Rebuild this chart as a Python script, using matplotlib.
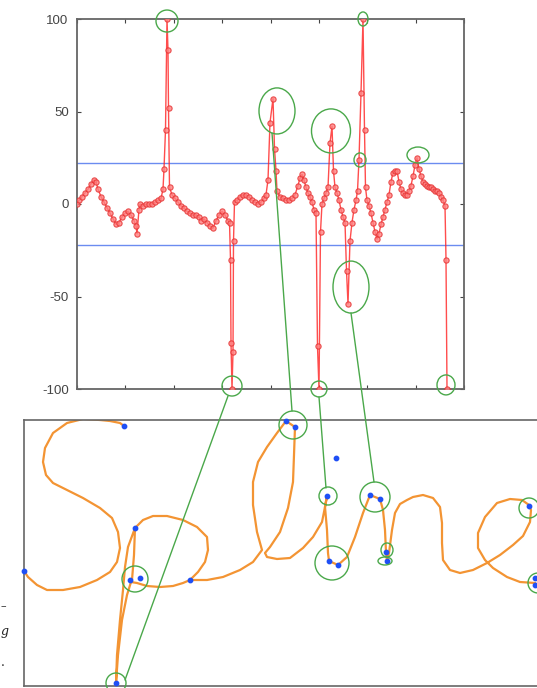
import numpy as np
import matplotlib
matplotlib.use("Agg")
import matplotlib.pyplot as plt
from matplotlib.patches import Ellipse, ConnectionPatch

# --- top chart: curvature signal along the stroke ---
pos = [0, 2, 5, 8, 11, 14, 17, 19, 21, 24, 27, 30, 33, 36, 39, 42, 45, 48, 51, 54, 57, 59, 60,
       62, 63, 66, 69, 72, 75, 78, 81, 84, 86, 87, 88.5, 90, 91, 91.5, 92.5, 95, 98, 101, 104,
       107, 110, 113, 116, 119, 122, 124, 127, 130, 133, 136, 139, 142, 145, 148, 151, 152.5,
       153.5, 154, 155, 156, 156.5, 157.5, 160, 163, 166, 169, 172, 175, 178, 181, 184, 187,
       189, 191, 193, 196, 197.5, 199, 200, 203, 206, 209, 212, 215, 218, 221, 223, 225, 227,
       229, 231, 233, 235, 237, 239, 240.5, 242, 243.5, 245, 247, 249, 251, 253, 255, 256.5,
       258, 260, 262, 264, 266, 268, 269.5, 271, 273, 275, 277, 279, 280.5, 282, 284, 286,
       287.5, 288.5, 290, 292, 294, 296, 298, 300, 302, 304, 306, 308, 310, 312, 314, 316,
       318, 320, 322, 324, 326, 328, 330, 332, 334, 336, 338, 340, 342, 344, 346, 348, 350,
       352, 354, 356, 358, 360, 362, 364, 366, 368, 369, 370]
val = [0, 2, 4, 6, 8, 11, 13, 12, 8, 4, 1, -2, -5, -8, -11, -10, -7, -5, -4, -6, -9, -12, -16,
       -3, 0, -1, 0, 0, 0, 1, 2, 3, 8, 19, 40, 100, 83, 52, 9, 5, 3, 1, -1,
       -2, -4, -5, -6, -6, -7, -9, -8, -10, -12, -13, -9, -6, -4, -6, -9, -10,
       -30, -75, -100, -80, -20, 1, 2, 4, 5, 5, 4, 2, 1, 0, 1, 3,
       5, 13, 44, 57, 30, 18, 7, 4, 3, 2, 2, 3, 5, 10, 14, 16, 13,
       9, 6, 4, 1, -3, -5, -77, -100, -15, 0, 3, 6, 9, 33, 42, 18,
       9, 6, 2, -3, -7, -10, -36, -54, -20, -10, -3, 2, 7, 24, 60, 100,
       40, 9, 2, -1, -5, -10, -15, -19, -16, -11, -7, -3, 1, 5, 12, 17,
       18, 18, 12, 8, 6, 5, 5, 7, 10, 15, 21, 25, 19, 15, 12, 11, 10,
       9, 9, 8, 7, 7, 6, 4, 2, -1, -30, -100]
threshold = 22
y_ticks = [100, 50, 0, -50, -100]

# highlighted peaks on the chart: centre (pos, value), width, height
peak_marks = [(90, 98.9, 22, 11.9), (200, 50.3, 36, 24.9), (254, 39.5, 39, 23.8),
              (286, 100, 10, 7.6), (283, 23.8, 12, 7.6), (341, 26.5, 22, 8.6),
              (274, -44.9, 36, 28.1), (155, -98.4, 20, 10.8), (242, -100, 16, 8.6),
              (369, -97.8, 18, 10.8)]

# --- bottom panel: the handwritten word, pixel-like coordinates ---
s_x = [124, 120, 110, 100, 83, 67, 53, 45, 43, 46, 53, 67, 83, 100, 112, 118, 120, 117, 110,
       97, 80, 63, 47, 37, 28, 24]
s_y = [426, 423, 421, 420, 419, 423, 433, 448, 462, 475, 483, 490, 498, 508, 518, 532, 548,
       562, 572, 580, 587, 590, 590, 585, 577, 571]
p_x = [132, 134, 135, 128, 125, 123, 120, 117, 116, 118, 122, 127, 131, 137, 147, 160, 173,
       183, 190, 198, 205, 208, 207, 197, 183, 167, 153, 143, 135]
p_y = [580, 555, 528, 547, 567, 590, 620, 655, 683, 655, 620, 595, 582, 583, 586, 587, 586,
       583, 580, 572, 562, 550, 537, 527, 520, 516, 516, 520, 528]
line_x = [190, 207, 223, 240, 253, 262, 257, 253, 253, 258, 267, 277, 286, 295, 294, 293, 288,
          280, 270, 265, 267, 277, 290, 303, 313, 322, 325, 327, 325, 327, 328, 329, 338, 347,
          355, 363, 370, 380, 383, 385, 386, 387, 389, 392, 395, 400, 407, 413, 423, 433, 440,
          442, 442, 443, 450, 460, 473, 487, 500, 513, 523, 530, 531, 529, 522, 510, 497, 485,
          478, 478, 485, 493, 507, 520, 535]
line_y = [580, 580, 577, 570, 562, 550, 532, 505, 482, 462, 447, 433, 421, 427, 455, 482, 508,
          532, 547, 553, 557, 559, 558, 548, 537, 522, 507, 496, 507, 530, 553, 561, 565, 557,
          537, 513, 495, 499, 510, 530, 552, 561, 553, 530, 513, 504, 500, 497, 495, 498, 507,
          523, 543, 560, 570, 573, 570, 563, 555, 545, 536, 522, 510, 505, 500, 499, 503, 517,
          533, 548, 560, 568, 577, 582, 583]
knot_x = [124, 24, 135, 130, 140, 116, 190, 286, 295, 336, 327, 329, 338, 370, 380, 386, 387,
          529, 535, 535]
knot_y = [426, 571, 528, 580, 578, 683, 580, 421, 427, 458, 496, 561, 565, 495, 499, 552, 561,
          506, 578, 585]
knot_marks = [(116, 683, 10, 10), (135, 579, 13, 13), (293, 425, 14, 14), (328, 496, 9, 9),
              (332, 563, 17, 17), (375, 497, 15, 15), (387, 550, 6, 7), (385, 561, 7, 4),
              (529, 508, 10, 10), (538, 583, 10, 10)]

# links chart -> word: (pos, value) on chart, (x, y) on word
links = [((151, -103.8), (125, 680)), ((195, 38.4), (292, 411)),
         ((242, -104.3), (326, 488)), ((274, -58.9), (374, 482))]

green = "#4aa84a"
fig = plt.figure(figsize=(5.37, 6.88), dpi=100)

ax = fig.add_axes([77 / 537, 299 / 688, 387 / 537, 370 / 688])
ax.plot(pos, val, color="#ff2020", lw=1.0, marker="o", ms=3.8, mfc="#ff8080",
        mec="#e53030", mew=0.8, alpha=0.8, zorder=3)
ax.axhline(threshold, color="#6b8cf0", lw=1.0, zorder=2)
ax.axhline(-threshold, color="#6b8cf0", lw=1.0, zorder=2)
for cx, cy, w, h in peak_marks:
    ax.add_patch(Ellipse((cx, cy), w, h, fill=False, ec=green, lw=1.0, clip_on=False, zorder=4))
ax.set_xlim(0, 387)
ax.set_ylim(-100, 100)
ax.set_xticks(np.linspace(0, 387, 9))
ax.set_xticklabels([])
ax.set_yticks(y_ticks)
ax.set_yticklabels([str(t) for t in y_ticks], fontfamily="Liberation Sans", fontsize=9.5,
                   color="#444444")
ax.tick_params(direction="in", length=3, width=0.8, color="#444444", top=True, right=True,
               pad=6)
for sp in ax.spines.values():
    sp.set_color("#666666")
    sp.set_linewidth(1.3)

bx = fig.add_axes([24 / 537, 2 / 688, 536 / 537, 266 / 688])
bx.set_xlim(24, 560)
bx.set_ylim(686, 420)
bx.plot(s_x, s_y, color="#f39433", lw=1.6, zorder=2)
bx.plot(p_x, p_y, color="#f39433", lw=1.6, zorder=2)
bx.plot(line_x, line_y, color="#f39433", lw=1.6, zorder=2)
bx.scatter(knot_x, knot_y, s=10, color="#1f4ff5", zorder=3, clip_on=False)
for cx, cy, rx, ry in knot_marks:
    bx.add_patch(Ellipse((cx, cy), 2 * rx, 2 * ry, fill=False, ec=green, lw=1.0,
                         clip_on=False, zorder=4))
bx.set_xticks([])
bx.set_yticks([])
for sp in bx.spines.values():
    sp.set_color("#666666")
    sp.set_linewidth(1.2)

for a, b in links:
    con = ConnectionPatch(xyA=a, coordsA=ax.transData, xyB=b, coordsB=bx.transData,
                          color=green, lw=1.0)
    fig.add_artist(con)

# text at the left page edge
fig.text(1 / 537, 1 - 606 / 688, "\u2013", ha="left", va="center", fontsize=8,
         fontfamily="DejaVu Serif", color="#222222")
fig.text(1 / 537, 1 - 632 / 688, "g", ha="left", va="center", fontsize=9,
         fontfamily="DejaVu Serif", style="italic", color="#222222")
fig.text(1 / 537, 1 - 662 / 688, ".", ha="left", va="center", fontsize=9,
         fontfamily="DejaVu Serif", color="#222222")

fig.savefig("out.png", dpi=100)
